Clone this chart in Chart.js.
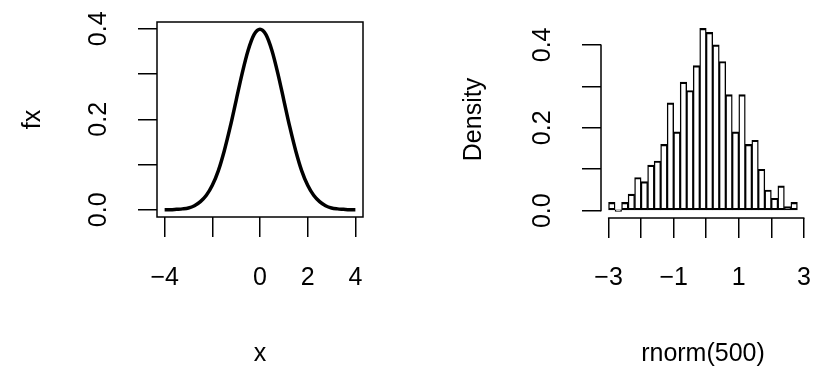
<!DOCTYPE html>
<html>
<head>
<meta charset="utf-8">
<script src="https://cdn.jsdelivr.net/npm/chart.js@4"></script>
<style>
  html, body { margin: 0; padding: 0; background: #fff; overflow: hidden; }
  #wrap { position: relative; width: 813px; height: 372px; overflow: hidden; }
  #left { position: absolute; left: 0; top: 0; }
  #right { position: absolute; left: 406px; top: 0; }
</style>
</head>
<body>
<div id="wrap">
  <canvas id="left" width="406" height="372"></canvas>
  <canvas id="right" width="430" height="372"></canvas>
</div>
<script>
// Left panel: density curve
const curveX = [-4, -3.75, -3.5, -3.25, -3, -2.75, -2.5, -2.25, -2, -1.75, -1.5, -1.25, -1, -0.75, -0.5, -0.25,
  0, 0.25, 0.5, 0.75, 1, 1.25, 1.5, 1.75, 2, 2.25, 2.5, 2.75, 3, 3.25, 3.5, 3.75, 4];
const curveY = [0.000, 0.000, 0.001, 0.002, 0.004, 0.009, 0.018, 0.032, 0.054, 0.086, 0.130, 0.183, 0.242, 0.301, 0.352, 0.387,
  0.399, 0.387, 0.352, 0.301, 0.242, 0.183, 0.130, 0.086, 0.054, 0.032, 0.018, 0.009, 0.004, 0.002, 0.001, 0.000, 0.000];
const curveXTicks = [-4, -2, 0, 2, 4];
const curveXLabels = ['\u22124', '', '0', '2', '4'];
const curveYTicks = [0, 0.1, 0.2, 0.3, 0.4];
const curveYLabelValues = [0, 0.2, 0.4];
const curveYLabels = ['0.0', '0.2', '0.4'];

// Right panel: histogram of rnorm(500), bin width 0.2
const histBreaks = [-3, -2.8, -2.6, -2.4, -2.2, -2, -1.8, -1.6, -1.4, -1.2, -1, -0.8, -0.6, -0.4, -0.2,
  0, 0.2, 0.4, 0.6, 0.8, 1, 1.2, 1.4, 1.6, 1.8, 2, 2.2, 2.4, 2.6, 2.8];
const histDensity = [0.02, 0, 0.02, 0.04, 0.08, 0.07, 0.11, 0.12, 0.16, 0.26, 0.19, 0.31, 0.29, 0.35,
  0.44, 0.43, 0.40, 0.36, 0.28, 0.19, 0.28, 0.16, 0.17, 0.10, 0.05, 0.03, 0.06, 0.01, 0.02];
const histXTicks = [-3, -2, -1, 0, 1, 2, 3];
const histXLabels = ['\u22123', '', '\u22121', '', '1', '', '3'];
const histYTicks = [0, 0.1, 0.2, 0.3, 0.4];
const histYLabelValues = [0, 0.2, 0.4];
const histYLabels = ['0.0', '0.2', '0.4'];

const FONT = '"Liberation Sans", Arial, Helvetica, sans-serif';
Chart.defaults.font.family = FONT;
Chart.defaults.font.size = 25;
Chart.defaults.color = '#000';

// R-style axis range: data range widened by 4% each side
function rRange(lo, hi) {
  const d = (hi - lo) * 0.04;
  return [lo - d, hi + d];
}

// box around the plot region
const frameBox = {
  id: 'frameBox',
  afterDatasetsDraw(chart) {
    const { ctx, chartArea: a } = chart;
    ctx.save();
    ctx.strokeStyle = '#000';
    ctx.lineWidth = 1.5;
    ctx.strokeRect(a.left, a.top, a.right - a.left, a.bottom - a.top);
    ctx.restore();
  }
};

// axis lines that run only from first to last tick
const axisLines = {
  id: 'axisLines',
  afterDraw(chart, args, opts) {
    const { ctx, chartArea: a, scales: { x, y } } = chart;
    ctx.save();
    ctx.strokeStyle = '#000';
    ctx.lineWidth = 1.5;
    ctx.lineCap = 'round';
    ctx.beginPath();
    ctx.moveTo(x.getPixelForValue(opts.xTicks[0]), a.bottom);
    ctx.lineTo(x.getPixelForValue(opts.xTicks[opts.xTicks.length - 1]), a.bottom);
    ctx.moveTo(a.left, y.getPixelForValue(opts.yTicks[0]));
    ctx.lineTo(a.left, y.getPixelForValue(opts.yTicks[opts.yTicks.length - 1]));
    ctx.stroke();
    ctx.restore();
  }
};

// y tick labels written parallel to the axis, like R does
const rotatedYLabels = {
  id: 'rotatedYLabels',
  afterDraw(chart, args, opts) {
    const { ctx, chartArea: a, scales: { y } } = chart;
    ctx.save();
    ctx.font = '25px ' + FONT;
    ctx.fillStyle = '#000';
    ctx.textAlign = 'center';
    ctx.textBaseline = 'middle';
    opts.values.forEach((v, i) => {
      ctx.save();
      ctx.translate(a.left - opts.offset, y.getPixelForValue(v));
      ctx.rotate(-Math.PI / 2);
      ctx.fillText(opts.labels[i], 0, 0);
      ctx.restore();
    });
    ctx.restore();
  }
};

function tickGrid(len) {
  return { display: true, drawOnChartArea: false, drawTicks: true, tickLength: len, color: '#000', lineWidth: 1.5 };
}

// ---- left: curve ----
const cx = rRange(-4, 4);
const cy = rRange(0, Math.max(...curveY));
new Chart(document.getElementById('left'), {
  type: 'line',
  data: {
    datasets: [{
      data: curveX.map((x, i) => ({ x: x, y: curveY[i] })),
      borderColor: '#000',
      borderWidth: 3.5,
      pointRadius: 0,
      cubicInterpolationMode: 'monotone',
      fill: false
    }]
  },
  options: {
    responsive: false,
    animation: false,
    layout: { padding: { top: 22, right: 43, left: 0, bottom: 0 } },
    plugins: {
      legend: { display: false },
      tooltip: { enabled: false },
      rotatedYLabels: { values: curveYLabelValues, labels: curveYLabels, offset: 58 }
    },
    scales: {
      x: {
        type: 'linear', min: cx[0], max: cx[1], offset: false,
        afterBuildTicks: s => { s.ticks = curveXTicks.map(v => ({ value: v })); },
        afterFit: s => { s.height = 155; },
        ticks: { autoSkip: false, maxRotation: 0, padding: 26, callback: (v, i) => curveXLabels[i] },
        grid: tickGrid(20),
        border: { display: false },
        title: { display: true, text: 'x', padding: { top: 0, bottom: 3 } }
      },
      y: {
        type: 'linear', min: cy[0], max: cy[1],
        afterBuildTicks: s => { s.ticks = curveYTicks.map(v => ({ value: v })); },
        afterFit: s => { s.width = 157; },
        ticks: { display: false },
        grid: tickGrid(19),
        border: { display: false },
        title: { display: true, text: 'fx', padding: { top: 18, bottom: 0 } }
      }
    }
  },
  plugins: [frameBox, rotatedYLabels]
});

// ---- right: histogram ----
const histMids = histDensity.map((d, i) => (histBreaks[i] + histBreaks[i + 1]) / 2);
const hx = rRange(histBreaks[0], histBreaks[histBreaks.length - 1]);
const hy = rRange(0, Math.max(...histDensity));
new Chart(document.getElementById('right'), {
  type: 'bar',
  data: {
    datasets: [{
      data: histMids.map((m, i) => ({ x: m, y: histDensity[i] })),
      backgroundColor: 'rgba(255,255,255,0)',
      borderColor: '#000',
      borderWidth: { left: 0.75, right: 0.75, top: 1.5, bottom: 1.5 },
      borderSkipped: false,
      barPercentage: 1,
      categoryPercentage: 1,
      minBarLength: 1.5
    }]
  },
  options: {
    responsive: false,
    animation: false,
    layout: { padding: { top: 21, right: 28, left: 0, bottom: 0 } },
    plugins: {
      legend: { display: false },
      tooltip: { enabled: false },
      axisLines: { xTicks: histXTicks, yTicks: histYTicks },
      rotatedYLabels: { values: histYLabelValues, labels: histYLabels, offset: 58 }
    },
    scales: {
      x: {
        type: 'linear', min: hx[0], max: hx[1], offset: false,
        afterBuildTicks: s => { s.ticks = histXTicks.map(v => ({ value: v })); },
        afterFit: s => { s.height = 154; },
        ticks: { autoSkip: false, maxRotation: 0, padding: 25, callback: (v, i) => histXLabels[i] },
        grid: Object.assign(tickGrid(20), { offset: false }),
        border: { display: false },
        title: { display: true, text: 'rnorm(500)', padding: { top: 0, bottom: 3 } }
      },
      y: {
        type: 'linear', min: hy[0], max: hy[1],
        afterBuildTicks: s => { s.ticks = histYTicks.map(v => ({ value: v })); },
        afterFit: s => { s.width = 195; },
        ticks: { display: false },
        grid: tickGrid(19),
        border: { display: false },
        title: { display: true, text: 'Density', padding: { top: 53, bottom: 0 } }
      }
    }
  },
  plugins: [axisLines, rotatedYLabels]
});
</script>
</body>
</html>
